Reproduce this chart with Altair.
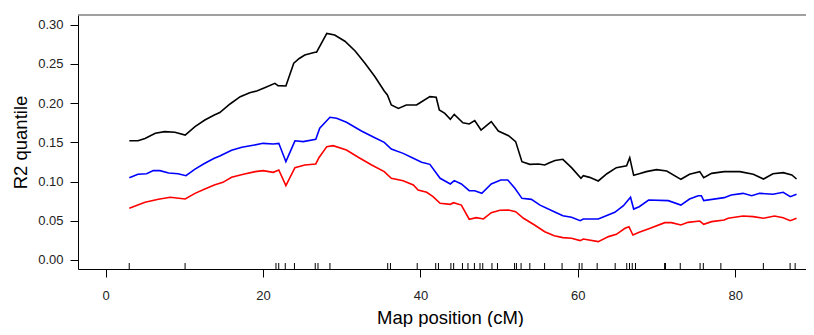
import altair as alt
import pandas as pd

# ---- data ----
pos_black = [3.0, 4.1, 5.0, 6.3, 7.5, 8.8, 10.1, 11.35, 12.6, 13.8, 14.5, 15.8, 17.1, 18.3, 19.2,
             20.2, 21.5, 21.9, 22.9, 23.9, 24.6, 25.3, 26.6, 26.8, 28.1, 29.1, 30.4, 31.7, 32.95,
             34.2, 35.4, 35.8, 36.3, 37.2, 38.2, 39.5, 39.9, 41.2, 42.0, 42.4, 43.1, 43.8, 44.3,
             45.4, 46.2, 46.9, 47.7, 49.0, 49.9, 51.2, 52.1, 52.9, 53.9, 55.0, 55.8, 56.4, 57.1,
             58.1, 59.2, 60.4, 60.7, 61.5, 62.6, 63.7, 64.9, 66.2, 66.6, 67.1, 67.8, 68.7, 70.0,
             71.3, 73.1, 74.2, 75.5, 76.0, 77.0, 78.6, 80.6, 82.3, 83.6, 84.8, 86.1, 87.2, 87.8]
r2_black = [0.152, 0.152, 0.155, 0.1616, 0.1637, 0.163, 0.1594, 0.170, 0.1786, 0.185, 0.188, 0.199,
            0.2083, 0.2134, 0.2156, 0.2198, 0.2253, 0.2224, 0.222, 0.251, 0.257, 0.2615, 0.265,
            0.265, 0.289, 0.287, 0.279, 0.2666, 0.251, 0.234, 0.2156, 0.2105, 0.1977, 0.1934,
            0.1977, 0.1977, 0.2003, 0.2083, 0.2075, 0.1913, 0.187, 0.1794, 0.1858, 0.175, 0.1735,
            0.1777, 0.1658, 0.1765, 0.1645, 0.1586, 0.151, 0.1254, 0.122, 0.1225, 0.1212, 0.124,
            0.127, 0.1284, 0.1178, 0.1042, 0.1075, 0.1054, 0.1008, 0.110, 0.1178, 0.1203, 0.1305,
            0.108, 0.110, 0.1127, 0.1152, 0.1135, 0.1029, 0.1093, 0.1127, 0.105, 0.1105, 0.1127,
            0.1127, 0.1093, 0.1033, 0.110, 0.1114, 0.1084, 0.1033]

pos_blue = [3.0, 4.1, 5.2, 6.05, 6.9, 8.0, 9.2, 10.2, 11.35, 12.6, 13.8, 14.5, 16.0, 17.3, 18.55,
            20.0, 21.3, 22.0, 22.9, 24.05, 25.1, 26.7, 27.2, 28.5, 29.35, 30.6, 32.5, 34.2, 35.4,
            36.3, 37.8, 39.1, 40.15, 41.2, 42.5, 43.8, 44.3, 45.2, 46.2, 46.9, 47.8, 49.0, 50.2,
            51.1, 52.0, 52.9, 54.1, 55.2, 57.0, 58.1, 59.2, 60.3, 60.7, 62.6, 64.7, 65.8, 66.7,
            67.1, 67.8, 69.0, 71.5, 73.1, 74.2, 75.3, 75.7, 76.0, 78.6, 79.5, 81.0, 82.1, 83.1,
            84.8, 86.1, 87.0, 87.8]
r2_blue = [0.105, 0.1093, 0.110, 0.114, 0.114, 0.111, 0.110, 0.1075, 0.116, 0.1233, 0.1297, 0.1327,
           0.140, 0.1437, 0.146, 0.1488, 0.148, 0.1488, 0.1254, 0.152, 0.151, 0.154, 0.168, 0.182,
           0.1807, 0.1756, 0.1645, 0.156, 0.150, 0.1416, 0.136, 0.1297, 0.1246, 0.122, 0.1042,
           0.097, 0.1012, 0.097, 0.0884, 0.0884, 0.085, 0.097, 0.102, 0.102, 0.0914, 0.0786,
           0.0773, 0.070, 0.0616, 0.0565, 0.0544, 0.0502, 0.0523, 0.0523, 0.0608, 0.0693, 0.080,
           0.065, 0.068, 0.0765, 0.0757, 0.070, 0.0778, 0.082, 0.082, 0.0757, 0.0795, 0.083,
           0.085, 0.082, 0.085, 0.0838, 0.0863, 0.0808, 0.0838]

pos_red = [3.0, 5.0, 6.7, 8.2, 10.1, 11.35, 12.6, 13.8, 14.9, 16.0, 17.5, 19.0, 20.0, 21.3, 22.0,
           22.9, 24.05, 25.3, 26.7, 27.1, 28.1, 28.9, 30.6, 32.1, 33.8, 35.4, 36.3, 37.8, 39.1,
           39.7, 40.8, 41.6, 42.5, 43.8, 44.2, 45.2, 46.2, 47.1, 48.0, 49.0, 50.1, 51.2, 52.1,
           53.1, 54.5, 55.8, 57.0, 58.1, 59.2, 60.3, 60.7, 62.6, 63.9, 64.9, 66.0, 66.5, 67.0,
           67.8, 69.2, 71.05, 71.9, 73.1, 74.0, 75.5, 76.0, 77.0, 78.6, 79.1, 81.0, 82.3, 83.6,
           85.0, 86.1, 87.0, 87.8]
r2_red = [0.066, 0.0736, 0.0774, 0.080, 0.0778, 0.085, 0.0906, 0.0957, 0.099, 0.1055, 0.1093,
          0.1127, 0.114, 0.1118, 0.1148, 0.0948, 0.1178, 0.1212, 0.1225, 0.1305, 0.1446, 0.1458,
          0.1403, 0.131, 0.1212, 0.1127, 0.1042, 0.1012, 0.0957, 0.0893, 0.0863, 0.0808, 0.0723,
          0.071, 0.0731, 0.070, 0.052, 0.054, 0.0523, 0.0604, 0.0634, 0.0638, 0.0616, 0.0532,
          0.0446, 0.0361, 0.031, 0.0285, 0.0277, 0.0247, 0.0268, 0.0234, 0.0298, 0.0327, 0.0404,
          0.0425, 0.0319, 0.0353, 0.0404, 0.0476, 0.0476, 0.0446, 0.048, 0.0497, 0.0455, 0.0489,
          0.051, 0.0532, 0.0561, 0.0553, 0.0532, 0.0561, 0.054, 0.0502, 0.0532]

marker_pos = [2.99, 10.09, 21.64, 21.99, 22.82, 23.99, 26.63, 26.98, 28.5, 35.84, 36.19, 39.59,
              41.94, 42.29, 43.87, 44.22, 45.34, 46.04, 46.86, 47.57, 47.92, 49.09, 49.79, 51.96,
              52.2, 52.79, 53.9, 55.78, 58.0, 60.18, 60.53, 62.46, 64.75, 66.22, 66.57, 66.92,
              67.33, 71.03, 71.14, 73.02, 75.54, 75.95, 78.18, 83.58, 86.98, 87.62]

x_ticks = [0, 20, 40, 60, 80]
y_ticks = [0.0, 0.05, 0.10, 0.15, 0.20, 0.25, 0.30]

series_names = ["upper", "median", "lower"]
series_colors = ["#000000", "#0000ff", "#ff0000"]

rows = []
for name, xs, ys in zip(series_names, [pos_black, pos_blue, pos_red], [r2_black, r2_blue, r2_red]):
    for i, (a, b) in enumerate(zip(xs, ys)):
        rows.append({"series": name, "pos": a, "r2": b, "order": i})
df = pd.DataFrame(rows)
df_mark = pd.DataFrame({"pos": marker_pos})

FONT = "Liberation Sans"
xscale = alt.Scale(domain=[-3.52, 89.0], nice=False, zero=False)
yscale = alt.Scale(domain=[-0.0115, 0.3125], nice=False, zero=False)

lines = alt.Chart(df).mark_line(strokeWidth=1.6, clip=True).encode(
    x=alt.X("pos:Q", scale=xscale,
            axis=alt.Axis(title="Map position (cM)", values=x_ticks, format="d",
                          tickSize=8, labelPadding=12, grid=False,
                          titleBaseline="alphabetic", titleY=54, titleX=372,
                          domainColor="#000000", tickColor="#000000")),
    y=alt.Y("r2:Q", scale=yscale,
            axis=alt.Axis(title="R2 quantile", values=y_ticks, format=".2f",
                          tickSize=8, labelPadding=7, grid=False,
                          titleBaseline="alphabetic", titleX=-52,
                          domainColor="#000000", tickColor="#000000")),
    color=alt.Color("series:N", scale=alt.Scale(domain=series_names, range=series_colors),
                    legend=None),
    detail="series:N",
    order="order:Q",
)

rug = alt.Chart(df_mark).mark_rule(color="#000000", strokeWidth=1).encode(
    x=alt.X("pos:Q", scale=xscale),
    y=alt.value(248),
    y2=alt.value(254),
)

top_line = alt.Chart(pd.DataFrame({"v": [0]})).mark_rule(color="#808080", strokeWidth=1.5).encode(
    y=alt.value(0),
)

chart = alt.layer(lines, rug, top_line).properties(
    width=728, height=254,
    autosize=alt.AutoSizeParams(type="none"),
    padding={"left": 70, "top": 7, "right": 0, "bottom": 58},
).configure_view(stroke=None).configure_axis(
    labelFont=FONT, titleFont=FONT, labelFontSize=13, titleFontSize=18.5,
    titleFontWeight="normal", labelColor="#222222", titleColor="#000000",
    domainWidth=1, tickWidth=1,
)

chart.save("out.html", embed_options={"renderer": "svg", "actions": False})
